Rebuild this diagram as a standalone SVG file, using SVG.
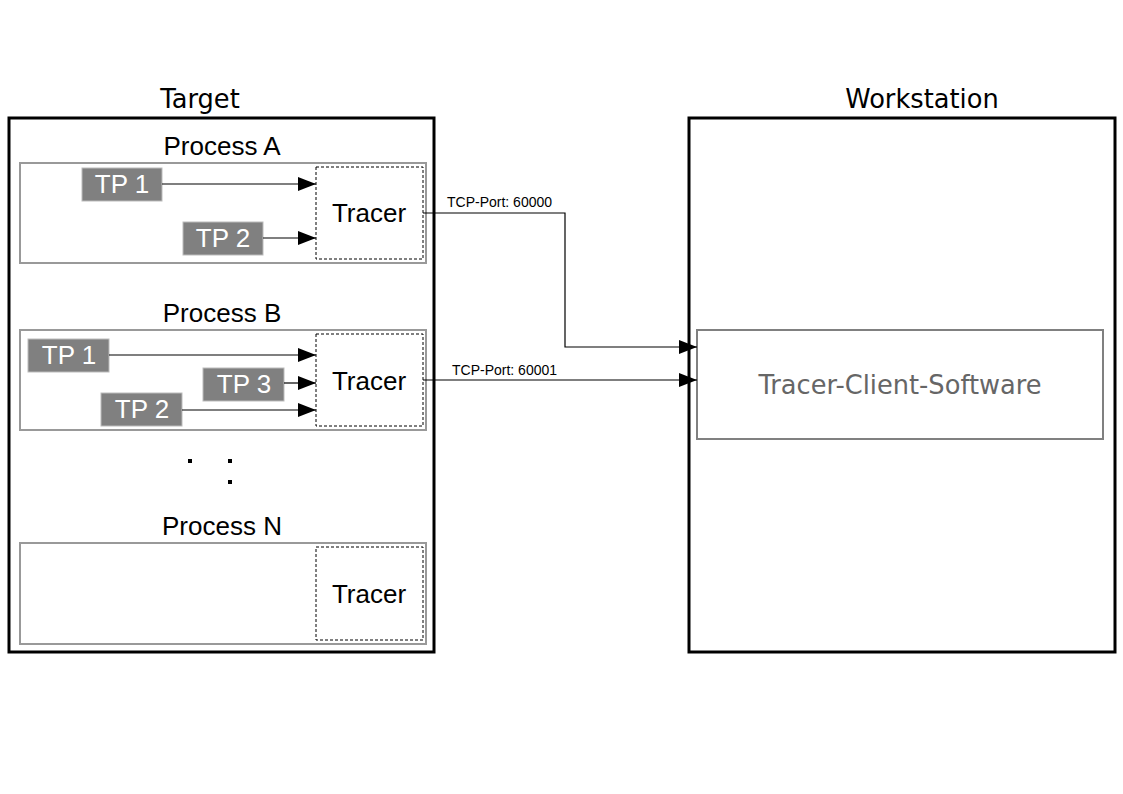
<svg xmlns="http://www.w3.org/2000/svg" width="1123" height="794" viewBox="0 0 1123 794">
<style>
.outer{fill:#fff;stroke:#000;stroke-width:3}
.proc{fill:#fff;stroke:#999;stroke-width:2}
.tracer{fill:#fff;stroke:#000;stroke-width:1;stroke-dasharray:3 2}
.tp{fill:#808080;stroke:#bbb;stroke-width:1}
.big{font-family:"DejaVu Sans",sans-serif;font-size:25.7px;text-anchor:middle;fill:#000}
.lab{font-family:"Liberation Sans",Arial,sans-serif;font-size:26px;text-anchor:middle;fill:#000}
.tpt{font-family:"Liberation Sans",Arial,sans-serif;font-size:26px;text-anchor:middle;fill:#fff}
.port{font-family:"Liberation Sans",Arial,sans-serif;font-size:14px;fill:#000}
.conn{fill:none;stroke:#000;stroke-width:1.2}
</style>
<defs>
<marker id="ah" markerWidth="18" markerHeight="14" refX="18" refY="7" orient="auto" markerUnits="userSpaceOnUse">
<path d="M0,0 L18,7 L0,14 Z" fill="#000"/>
</marker>
</defs>
<rect width="1123" height="794" fill="#fff"/>
<g id="target">
<rect class="outer" x="9" y="118" width="425" height="534"/>
<text class="big" x="200" y="108">Target</text>
</g>
<g id="workstation">
<rect class="outer" x="689" y="118" width="426" height="534"/>
<text class="big" x="922" y="108">Workstation</text>
</g>
<g id="processA">
<text class="lab" x="222" y="155">Process A</text>
<rect class="proc" x="20" y="163" width="406" height="100"/>
<rect class="tracer" x="316" y="167" width="107" height="92"/>
<text class="lab" x="369" y="222">Tracer</text>
</g>
<g id="processA-tp1">
<rect class="tp" x="82" y="168" width="80" height="33"/>
<text class="tpt" x="122" y="193">TP 1</text>
</g>
<g id="processA-tp2">
<rect class="tp" x="183" y="222" width="80" height="33"/>
<text class="tpt" x="223" y="247">TP 2</text>
</g>
<g id="processB">
<text class="lab" x="222" y="322">Process B</text>
<rect class="proc" x="20" y="330" width="406" height="100"/>
<rect class="tracer" x="316" y="334" width="107" height="92"/>
<text class="lab" x="369" y="390">Tracer</text>
</g>
<g id="processB-tp1">
<rect class="tp" x="28" y="339" width="81" height="33"/>
<text class="tpt" x="69" y="364">TP 1</text>
</g>
<g id="processB-tp3">
<rect class="tp" x="203" y="368" width="81" height="33"/>
<text class="tpt" x="244" y="393">TP 3</text>
</g>
<g id="processB-tp2">
<rect class="tp" x="101" y="393" width="81" height="33"/>
<text class="tpt" x="142" y="418">TP 2</text>
</g>
<g id="dots">
<rect x="188" y="459" width="4" height="4" fill="#000"/>
<rect x="228" y="459" width="4" height="4" fill="#000"/>
<rect x="228" y="480" width="4" height="4" fill="#000"/>
</g>
<g id="processN">
<text class="lab" x="222" y="535">Process N</text>
<rect class="proc" x="20" y="543" width="406" height="101"/>
<rect class="tracer" x="316" y="547" width="107" height="93"/>
<text class="lab" x="369" y="603">Tracer</text>
</g>
<g id="client">
<rect x="697" y="330" width="406" height="109" fill="#fff" stroke="#808080" stroke-width="2"/>
<text x="900" y="394" font-family="DejaVu Sans,sans-serif" font-size="25.7" text-anchor="middle" fill="#666">Tracer-Client-Software</text>
</g>
<g id="connectors">
<line class="conn" x1="162" y1="184" x2="316" y2="184" marker-end="url(#ah)"/>
<line class="conn" x1="263" y1="238" x2="316" y2="238" marker-end="url(#ah)"/>
<line class="conn" x1="109" y1="355" x2="316" y2="355" marker-end="url(#ah)"/>
<line class="conn" x1="284" y1="383" x2="316" y2="383" marker-end="url(#ah)"/>
<line class="conn" x1="182" y1="410" x2="316" y2="410" marker-end="url(#ah)"/>
<polyline class="conn" points="423,213 565,213 565,347 697,347" marker-end="url(#ah)"/>
<line class="conn" x1="423" y1="380" x2="697" y2="380" marker-end="url(#ah)"/>
<text class="port" x="447" y="207">TCP-Port: 60000</text>
<text class="port" x="452" y="375">TCP-Port: 60001</text>
</g>
</svg>
